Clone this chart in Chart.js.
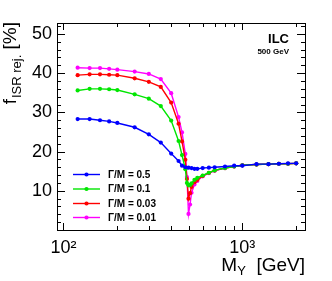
<!DOCTYPE html>
<html><head><meta charset="utf-8">
<script src="https://cdn.jsdelivr.net/npm/chart.js@4"></script>
<style>html,body{margin:0;padding:0;background:#fff}#wrap{width:332px;height:281px}</style>
</head><body><div id="wrap"><canvas id="c" width="332" height="281"></canvas></div>
<script>
// ---- data ----
const masses  = [120,140,160,180,200,250,300,350,400,440,460,480,490,500,510,520,540,560,600,650,700,800,900,1000,1200,1400,1600,1800,2000];
const gm050   = [28.3,28.3,28.0,27.7,27.3,26.2,24.4,22.3,19.5,17.6,16.4,16.0,null,15.9,null,15.8,15.6,15.6,15.8,15.9,16.0,16.2,16.4,16.4,16.8,16.8,16.9,17.0,17.0];
const gm010   = [35.6,36.0,36.0,35.9,35.7,34.6,33.5,31.6,27.9,22.7,19.1,15.5,12.0,11.4,11.5,11.9,12.8,13.3,13.9,14.6,15.2,15.8,16.2,16.5,16.7,16.8,16.9,16.9,17.0];
const gm003   = [39.5,39.7,39.7,39.6,39.5,38.7,37.8,36.5,32.5,27.1,22.6,17.9,13.0,8.0,9.4,11.0,12.2,12.8,13.8,14.6,15.2,15.8,16.2,16.5,16.7,16.8,16.9,16.9,17.0];
const gm001   = [41.4,41.3,41.3,41.1,40.9,40.4,39.8,38.5,34.9,28.8,24.9,19.4,13.5,4.1,6.5,9.5,11.6,12.5,13.7,14.5,15.1,15.8,16.2,16.5,16.7,16.8,16.9,16.9,17.0];
const seriesLabels = ['\u0393/M = 0.5','\u0393/M = 0.1','\u0393/M = 0.03','\u0393/M = 0.01'];
const seriesColors = ['#0000ff','#00e600','#ff0000','#ff00ff'];
const yMajorTicks = [10,20,30,40,50];
const yMinorTicks = [2,4,6,8,12,14,16,18,22,24,26,28,32,34,36,38,42,44,46,48,52];
const xMajorTicks = [100,1000];
const xMinorTicks = [200,300,400,500,600,700,800,900,2000];
const xTickText = {100:'10\u00B2',1000:'10\u00B3'};

const seriesValues = [gm050, gm010, gm003, gm001];
const datasets = seriesValues.map((vals,k)=>({
  label: seriesLabels[k],
  data: masses.map((m,i)=>({x:m,y:vals[i]})).filter(p=>p.y!==null),
  borderColor: seriesColors[k],
  backgroundColor: seriesColors[k],
  borderWidth: 1.4,
  pointRadius: 2.1,
  pointBorderWidth: 0,
  tension: 0
}));

const FONT = '"Liberation Sans", Arial, Helvetica, sans-serif';

const decor = {
  id:'decor',
  afterDraw(chart){
    const ctx = chart.ctx, a = chart.chartArea;
    const xs = chart.scales.x, ys = chart.scales.y;
    ctx.save();
    ctx.strokeStyle = '#000'; ctx.lineWidth = 1;
    ctx.strokeRect(Math.round(a.left)+0.5, Math.round(a.top)+0.5, Math.round(a.right-a.left), Math.round(a.bottom-a.top));
    ctx.beginPath();
    const tick = (vals, len, isY) => {
      vals.forEach(v=>{
        if(isY){
          const p = Math.round(ys.getPixelForValue(v))+0.5;
          ctx.moveTo(a.left, p); ctx.lineTo(a.left+len, p);
          ctx.moveTo(a.right, p); ctx.lineTo(a.right-len, p);
        } else {
          const p = Math.round(xs.getPixelForValue(v))+0.5;
          ctx.moveTo(p, a.bottom); ctx.lineTo(p, a.bottom-len);
          ctx.moveTo(p, a.top); ctx.lineTo(p, a.top+len);
        }
      });
    };
    tick(yMajorTicks, 8, true); tick(yMinorTicks, 4, true);
    tick(xMajorTicks, 7, false); tick(xMinorTicks, 4, false);
    ctx.stroke();

    ctx.fillStyle = '#000';
    // x title
    ctx.textBaseline = 'alphabetic';
    ctx.font = '19px '+FONT;
    const t3 = '  [GeV]';
    ctx.textAlign = 'left';
    const w3 = ctx.measureText(t3).width;
    const w1 = ctx.measureText('M').width;
    ctx.font = '13px '+FONT;
    const w2 = ctx.measureText('Y').width;
    let x0 = a.right - w1 - w2 - w3;
    ctx.font = '19px '+FONT; ctx.fillText('M', x0, 271);
    ctx.font = '13px '+FONT; ctx.fillText('Y', x0+w1, 275);
    ctx.font = '19px '+FONT; ctx.fillText(t3, x0+w1+w2, 271);

    // y title rotated
    ctx.save();
    ctx.translate(16, a.top);
    ctx.rotate(-Math.PI/2);
    ctx.font = '19px '+FONT;
    const yt3 = ' [%]';
    const yw1 = ctx.measureText('f').width, yw3 = ctx.measureText(yt3).width;
    ctx.font = '13px '+FONT;
    const yw2 = ctx.measureText('ISR rej.').width;
    let s = -(yw1+yw2+yw3);
    ctx.font = '19px '+FONT; ctx.fillText('f', s, 0);
    ctx.font = '13px '+FONT; ctx.fillText('ISR rej.', s+yw1+1, 5);
    ctx.font = '19px '+FONT; ctx.fillText(yt3, s+yw1+1+yw2, 0);
    ctx.restore();

    // ILC label
    ctx.textAlign = 'right';
    ctx.font = 'bold 13px '+FONT; ctx.fillText('ILC', 289, 43);
    ctx.font = 'bold 8px '+FONT; ctx.fillText('500 GeV', 289, 54);

    // legend
    const rows = [174.5,189,203.5,217.5];
    ctx.textAlign = 'left'; ctx.textBaseline = 'middle';
    chart.data.datasets.forEach((d,i)=>{
      const y = rows[i];
      ctx.strokeStyle = d.borderColor; ctx.lineWidth = 1.4;
      ctx.beginPath(); ctx.moveTo(73,y); ctx.lineTo(100,y); ctx.stroke();
      ctx.fillStyle = d.backgroundColor;
      ctx.beginPath(); ctx.arc(86.5,y,2.1,0,Math.PI*2); ctx.fill();
      ctx.fillStyle = '#000';
      ctx.font = 'bold 10px '+FONT;
      ctx.fillText(d.label, 108, y+0.5);
    });
    ctx.restore();
  }
};

new Chart(document.getElementById('c'), {
  type:'line',
  data:{datasets},
  options:{
    responsive:false, animation:false, devicePixelRatio:1,
    layout:{padding:{left:0,right:27,top:23,bottom:0}},
    plugins:{legend:{display:false},tooltip:{enabled:false}},
    scales:{
      x:{type:'logarithmic', min:92, max:2240,
        grid:{display:false, drawTicks:false}, border:{display:false},
        ticks:{autoSkip:false, maxRotation:0, padding:7, color:'#000',
          font:{family:FONT,size:18},
          callback:(v)=> xTickText[v] || ''},
        afterFit:(s)=>{s.height = 51;}
      },
      y:{type:'linear', min:0, max:52.8,
        grid:{display:false, drawTicks:false}, border:{display:false},
        ticks:{stepSize:10, includeBounds:false, padding:5, color:'#000',
          font:{family:FONT,size:18},
          callback:(v)=> yMajorTicks.includes(v) ? String(v) : ''},
        afterFit:(s)=>{s.width = 57;}
      }
    }
  },
  plugins:[decor]
});
</script></body></html>
